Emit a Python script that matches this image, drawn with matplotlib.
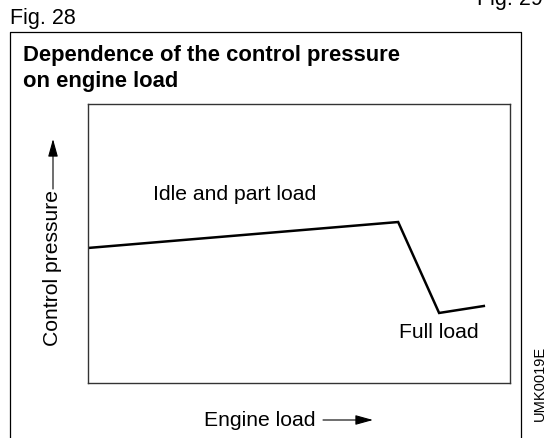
import matplotlib
matplotlib.use("Agg")
import matplotlib.pyplot as plt
from matplotlib.lines import Line2D
from matplotlib.patches import FancyArrowPatch

plt.rcParams['font.family'] = ['Liberation Sans', 'DejaVu Sans']

# Control pressure characteristic vs. engine load (relative units)
engine_load = [0.0, 0.735, 0.832, 0.938]
control_pressure = [0.484, 0.577, 0.251, 0.276]

W, H = 548, 438
fig = plt.figure(figsize=(W / 100, H / 100), dpi=100)

def fx(px):
    return px / W

def fy(py):
    return 1 - py / H

# outer frame (open at bottom)
frame_kw = dict(color='black', lw=0.9, transform=fig.transFigure)
fig.add_artist(Line2D([fx(10), fx(10), fx(521), fx(521)],
                      [fy(440), fy(32), fy(32), fy(440)], **frame_kw))

fig.text(fx(10), fy(24), "Fig. 28", fontsize=15.5, va='baseline', ha='left')
fig.text(fx(477), fy(5), "Fig. 29", fontsize=15.5, va='baseline', ha='left')

fig.text(fx(23), fy(56), "Dependence of the control pressure", fontsize=15.8,
         fontweight='bold', va='center', ha='left')
fig.text(fx(23), fy(81), "on engine load", fontsize=15.8,
         fontweight='bold', va='center', ha='left')

ax = fig.add_axes([fx(88), fy(383), (510 - 88) / W, (383 - 104) / H])
ax.plot(engine_load, control_pressure, color='black', lw=1.8,
        solid_joinstyle='miter')
ax.set_xlim(0, 1)
ax.set_ylim(0, 1)
ax.set_xticks([])
ax.set_yticks([])
for s in ax.spines.values():
    s.set_linewidth(1.0)
    s.set_color('#333333')

ax.text(0.155, 0.676, "Idle and part load", fontsize=15.2, va='center', ha='left',
        transform=ax.transAxes)
ax.text(0.738, 0.18, "Full load", fontsize=15.2, va='center', ha='left',
        transform=ax.transAxes)

# axis captions with arrows
arrow_style = '-|>,head_length=0.9,head_width=0.25'
fig.text(fx(53), fy(268), "Control pressure", fontsize=15.2, rotation=90,
         va='center', ha='center')
fig.add_artist(FancyArrowPatch(
    (fx(53), fy(189)), (fx(53), fy(139)), transform=fig.transFigure,
    arrowstyle=arrow_style, mutation_scale=12, lw=0.8, color='black',
    shrinkA=0, shrinkB=0))

fig.text(fx(260), fy(420), "Engine load", fontsize=15.2, va='center', ha='center')
fig.add_artist(FancyArrowPatch(
    (fx(323), fy(420)), (fx(373), fy(420)), transform=fig.transFigure,
    arrowstyle=arrow_style, mutation_scale=12, lw=0.8, color='black',
    shrinkA=0, shrinkB=0))

fig.text(fx(540), fy(383), "UMK0019E", fontsize=10.5, rotation=90,
         va='center', ha='center')

fig.savefig("out.png", dpi=100)
